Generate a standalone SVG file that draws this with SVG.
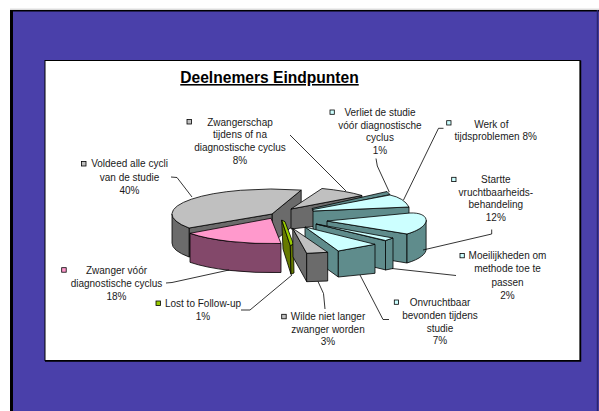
<svg xmlns="http://www.w3.org/2000/svg" width="599" height="411" viewBox="0 0 599 411">
<style>
.lbl{font-family:"Liberation Sans",Arial,sans-serif;font-size:10px;fill:#1a1a1a;text-anchor:middle}
.ttl{font-family:"Liberation Sans",Arial,sans-serif;font-size:15.6px;font-weight:bold;fill:#000;text-anchor:middle;text-decoration:underline}
.e{stroke:#000;stroke-width:0.8;stroke-linejoin:round}
.k{stroke:#000;stroke-width:0.8}
.gt{fill:#C0C0C0}.gs{fill:#6B6B6B}
.ct{fill:#CCFFFF}.cs{fill:#5F8C8C}
.pt{fill:#FF99CC}.ps{fill:#83486A}
.ot{fill:#99CC00}.os{fill:#667A00}
.ld{fill:none;stroke:#000;stroke-width:0.8}
</style>
<g id="frame">
<rect x="10" y="10" width="589" height="401" fill="#4A40AA"/>
<line x1="11.5" y1="10" x2="11.5" y2="411" stroke="#000" stroke-width="3"/>
<line x1="10" y1="10.7" x2="599" y2="10.7" stroke="#000" stroke-width="1.5"/>
<line x1="10" y1="9.2" x2="599" y2="9.2" stroke="#ccc" stroke-width="1"/>
<line x1="597.5" y1="10" x2="597.5" y2="411" stroke="#2a2470" stroke-width="1.5"/>
<rect x="45" y="60.5" width="535" height="300" fill="#fff" stroke="#000" stroke-width="1"/>
<polyline points="45,361 580.5,361 580.5,60.5" fill="none" stroke="#000" stroke-width="1.5"/>
</g>
<text class="ttl" x="269.5" y="83">Deelnemers Eindpunten</text>
<g id="voldeed">
<path class="gs e" d="M272,214 L301.2,190.1 L301.2,219.1 L272,243 Z"/>
<path class="gs e" d="M272,214 L189.1,228 L189.1,257 L272,243 Z"/>
<path class="gs e" d="M189.1,228 A100,25 0 0,1 172,214 L172,243 A100,25 0 0,0 189.1,257 Z"/>
<path class="gt e" d="M272,214 L301.2,190.1 A100,25 0 0,0 189.1,228 Z"/>
<rect class="gt k" x="81.5" y="161.5" width="4.5" height="4.5"/>
<text class="lbl" x="129.5" y="167">Voldeed alle cycli</text>
<text class="lbl" x="129.5" y="180.5">van de studie</text>
<text class="lbl" x="129.5" y="194">40%</text>
</g>
<g id="zwangerschap">
<path class="gs e" d="M291,209 L362,195.5 L362,221 L291,229 Z"/>
<path class="gt e" d="M291,209 L322,188.5 A100,25 0 0,1 362,195.5 Z"/>
<rect class="gt k" x="187" y="119.5" width="4.5" height="4.5"/>
<text class="lbl" x="240" y="125.5">Zwangerschap</text>
<text class="lbl" x="240" y="138.3">tijdens of na</text>
<text class="lbl" x="240" y="151">diagnostische cyclus</text>
<text class="lbl" x="240" y="163.8">8%</text>
</g>
<g id="verliet">
<path class="cs e" d="M312,208.5 L387,191.5 L390,194.5 L313,211 Z"/>
<rect class="ct k" x="330" y="110" width="4.3" height="4.3"/>
<text class="lbl" x="380" y="116">Verliet de studie</text>
<text class="lbl" x="380" y="128.5">vóór diagnostische</text>
<text class="lbl" x="380" y="141">cyclus</text>
<text class="lbl" x="380" y="153.5">1%</text>
</g>
<g id="werk">
<path class="cs e" d="M313,211 L409,207 L409,236 L313,240 Z"/>
<path class="ct e" d="M313,209.5 L390,195 Q404,198 409,207 L313,211 Z"/>
<rect class="ct k" x="446.7" y="120.7" width="4.3" height="4.3"/>
<text class="lbl" x="491.3" y="127.5">Werk of</text>
<text class="lbl" x="495.7" y="140">tijdsproblemen 8%</text>
</g>
<g id="startte">
<path class="cs e" d="M327,221 L407,234 L407,263 L327,250 Z"/>
<path class="cs e" d="M426.1,220.1 C426.25,224.5 420.5,230 407,234 L407,263 C420.5,259 426.25,253.5 426.1,249.1 Z"/>
<path class="ct e" d="M327,221 L410,213 C430,212 434,226 407,234 Z"/>
<rect class="ct k" x="451.7" y="177.3" width="4.3" height="4.3"/>
<text class="lbl" x="495.8" y="183">Startte</text>
<text class="lbl" x="495.8" y="195.7">vruchtbaarheids-</text>
<text class="lbl" x="495.8" y="208.3">behandeling</text>
<text class="lbl" x="495.8" y="221">12%</text>
</g>
<g id="moeilijkheden">
<path class="cs e" d="M316,224 L386,241 L386,270 L316,253 Z"/>
<path class="cs e" d="M385.5,240.5 L393,238 L393,268.5 L385.5,270 Z"/>
<path class="ct e" d="M316,224 L393,238 L385.5,240.5 Z"/>
<rect class="ct k" x="460" y="253.5" width="4.3" height="4.3"/>
<text class="lbl" x="507.5" y="259">Moeilijkheden om</text>
<text class="lbl" x="507.5" y="272">methode toe te</text>
<text class="lbl" x="507.5" y="285.5">passen</text>
<text class="lbl" x="507.5" y="298.5">2%</text>
</g>
<g id="onvruchtbaar">
<path class="cs e" d="M305,227 L338.3,251 L338.3,277 L305,253 Z"/>
<path class="cs e" d="M338.3,251 L375,244.3 L375,273.3 L338.3,277 Z"/>
<path class="ct e" d="M305,227 L375,244.3 L338.3,251 Z"/>
<rect class="ct k" x="394.3" y="300" width="4.3" height="4.3"/>
<text class="lbl" x="440" y="305.5">Onvruchtbaar</text>
<text class="lbl" x="440" y="318.5">bevonden tijdens</text>
<text class="lbl" x="440" y="331.5">studie</text>
<text class="lbl" x="440" y="344.3">7%</text>
</g>
<g id="zwanger-voor">
<path class="ps e" d="M190,233.3 A100,25 0 0,0 281,243.5 L281,272.5 A100,25 0 0,1 190,262.3 Z"/>
<path class="pt e" d="M271,218.3 L190,233.3 A100,25 0 0,0 281,243.5 Z"/>
<rect class="pt k" x="61.7" y="267.7" width="4.5" height="4.5"/>
<text class="lbl" x="116.5" y="274">Zwanger vóór</text>
<text class="lbl" x="116.5" y="286.7">diagnostische cyclus</text>
<text class="lbl" x="116.5" y="299.5">18%</text>
</g>
<g id="lost">
<path class="os e" d="M281.7,220 L290.3,245.7 L291,274.3 L283,249 Z"/>
<path class="os e" d="M290.3,245.7 L293.5,244 L294,273 L291,274.3 Z"/>
<path class="ot e" d="M281.7,220 L285,221.7 L293.5,244 L290.3,245.7 Z"/>
<rect class="ot k" x="156" y="301" width="4.5" height="4.5"/>
<text class="lbl" x="203" y="307">Lost to Follow-up</text>
<text class="lbl" x="203" y="319.5">1%</text>
</g>
<g id="wilde">
<path class="gs e" d="M292.7,228.3 L306.7,253.3 L306.7,281.7 L293,257 Z"/>
<path class="gs e" d="M306.7,253.3 L327.7,252.3 L327.7,281 L306.7,281.7 Z"/>
<path class="gt e" d="M292.7,228.3 L306.7,253.3 L327.7,252.3 Z"/>
<rect class="gt k" x="281.7" y="314.3" width="4.5" height="4.5"/>
<text class="lbl" x="328" y="319.5">Wilde niet langer</text>
<text class="lbl" x="328" y="332.5">zwanger worden</text>
<text class="lbl" x="328" y="345.3">3%</text>
</g>
<g id="connectors">
<polyline class="ld" points="171,177 177,177.5 192,197"/>
<polyline class="ld" points="290,135 346,191"/>
<polyline class="ld" points="376,158.5 377.3,166 389.3,192"/>
<polyline class="ld" points="443.5,128.3 438.5,128.3 403.5,200"/>
<polyline class="ld" points="491.7,229.5 491.7,234 423,250"/>
<polyline class="ld" points="456,275.5 392,268.5"/>
<polyline class="ld" points="389,319.5 383,319.5 360,275"/>
<polyline class="ld" points="325,309 323.5,293.5 318,281.5"/>
<polyline class="ld" points="241,310 250,310 292,275"/>
<polyline class="ld" points="166,283 172,282.5 229,270"/>
</g>
</svg>
